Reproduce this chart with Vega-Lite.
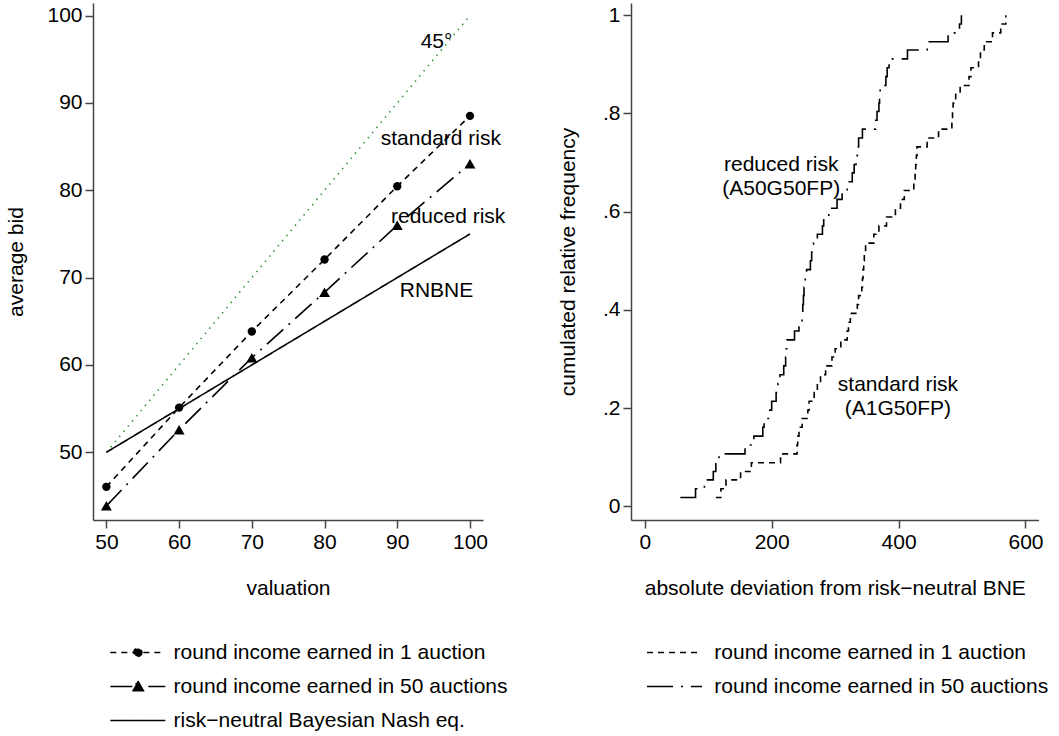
{
  "$schema": "https://vega.github.io/schema/vega-lite/v6.json",
  "background": "white",
  "padding": {"left": 5, "top": 3, "right": 5, "bottom": 5},
  "spacing": 49,
  "config": {
    "view": {"stroke": null},
    "font": "Liberation Sans",
    "axis": {
      "labelFont": "Liberation Sans", "labelFontSize": 21, "labelColor": "black",
      "titleFont": "Liberation Sans", "titleFontSize": 21, "titleFontWeight": "normal", "titleColor": "black",
      "domainColor": "#444444", "domainWidth": 1.5, "tickColor": "#444444", "tickWidth": 1.5,
      "tickSize": 8, "labelPadding": 3, "grid": false
    },
    "legend": {"labelFont": "Liberation Sans", "labelFontSize": 21, "labelColor": "black", "padding": 0, "labelLimit": 400}
  },
  "resolve": {"scale": {"strokeDash": "independent", "shape": "independent"}, "legend": {"strokeDash": "independent"}},
  "datasets": {
    "bids": [
      {"valuation": 50, "bid": 46.05, "series": "round income earned in 1 auction"},
      {"valuation": 60, "bid": 55.12, "series": "round income earned in 1 auction"},
      {"valuation": 70, "bid": 63.83, "series": "round income earned in 1 auction"},
      {"valuation": 80, "bid": 72.08, "series": "round income earned in 1 auction"},
      {"valuation": 90, "bid": 80.46, "series": "round income earned in 1 auction"},
      {"valuation": 100, "bid": 88.52, "series": "round income earned in 1 auction"},
      {"valuation": 50, "bid": 43.87, "series": "round income earned in 50 auctions"},
      {"valuation": 60, "bid": 52.58, "series": "round income earned in 50 auctions"},
      {"valuation": 70, "bid": 60.83, "series": "round income earned in 50 auctions"},
      {"valuation": 80, "bid": 68.32, "series": "round income earned in 50 auctions"},
      {"valuation": 90, "bid": 76.0, "series": "round income earned in 50 auctions"},
      {"valuation": 100, "bid": 83.03, "series": "round income earned in 50 auctions"},
      {"valuation": 50, "bid": 50, "series": "risk−neutral Bayesian Nash eq."},
      {"valuation": 100, "bid": 75, "series": "risk−neutral Bayesian Nash eq."}
    ],
    "diagonal": [
      {"valuation": 50, "bid": 50},
      {"valuation": 100, "bid": 100}
    ],
    "leftLabels": [
      {"valuation": 95.4, "bid": 97.0, "label": "45°"},
      {"valuation": 96.0, "bid": 85.9, "label": "standard risk"},
      {"valuation": 97.0, "bid": 76.9, "label": "reduced risk"},
      {"valuation": 95.4, "bid": 68.5, "label": "RNBNE"}
    ],
    "cdf": [
      {"deviation": 56, "freq": 0.018, "group": "round income earned in 50 auctions"},
      {"deviation": 80, "freq": 0.036, "group": "round income earned in 50 auctions"},
      {"deviation": 94, "freq": 0.054, "group": "round income earned in 50 auctions"},
      {"deviation": 108, "freq": 0.071, "group": "round income earned in 50 auctions"},
      {"deviation": 112, "freq": 0.089, "group": "round income earned in 50 auctions"},
      {"deviation": 117, "freq": 0.107, "group": "round income earned in 50 auctions"},
      {"deviation": 158, "freq": 0.125, "group": "round income earned in 50 auctions"},
      {"deviation": 172, "freq": 0.143, "group": "round income earned in 50 auctions"},
      {"deviation": 186, "freq": 0.161, "group": "round income earned in 50 auctions"},
      {"deviation": 188, "freq": 0.179, "group": "round income earned in 50 auctions"},
      {"deviation": 197, "freq": 0.196, "group": "round income earned in 50 auctions"},
      {"deviation": 200, "freq": 0.214, "group": "round income earned in 50 auctions"},
      {"deviation": 207, "freq": 0.232, "group": "round income earned in 50 auctions"},
      {"deviation": 210, "freq": 0.25, "group": "round income earned in 50 auctions"},
      {"deviation": 213, "freq": 0.268, "group": "round income earned in 50 auctions"},
      {"deviation": 219, "freq": 0.286, "group": "round income earned in 50 auctions"},
      {"deviation": 222, "freq": 0.304, "group": "round income earned in 50 auctions"},
      {"deviation": 223, "freq": 0.321, "group": "round income earned in 50 auctions"},
      {"deviation": 224, "freq": 0.339, "group": "round income earned in 50 auctions"},
      {"deviation": 236, "freq": 0.357, "group": "round income earned in 50 auctions"},
      {"deviation": 243, "freq": 0.375, "group": "round income earned in 50 auctions"},
      {"deviation": 248, "freq": 0.393, "group": "round income earned in 50 auctions"},
      {"deviation": 249, "freq": 0.411, "group": "round income earned in 50 auctions"},
      {"deviation": 250, "freq": 0.429, "group": "round income earned in 50 auctions"},
      {"deviation": 251, "freq": 0.446, "group": "round income earned in 50 auctions"},
      {"deviation": 253, "freq": 0.464, "group": "round income earned in 50 auctions"},
      {"deviation": 255, "freq": 0.482, "group": "round income earned in 50 auctions"},
      {"deviation": 261, "freq": 0.5, "group": "round income earned in 50 auctions"},
      {"deviation": 263, "freq": 0.518, "group": "round income earned in 50 auctions"},
      {"deviation": 266, "freq": 0.536, "group": "round income earned in 50 auctions"},
      {"deviation": 272, "freq": 0.554, "group": "round income earned in 50 auctions"},
      {"deviation": 280, "freq": 0.571, "group": "round income earned in 50 auctions"},
      {"deviation": 282, "freq": 0.589, "group": "round income earned in 50 auctions"},
      {"deviation": 290, "freq": 0.607, "group": "round income earned in 50 auctions"},
      {"deviation": 303, "freq": 0.625, "group": "round income earned in 50 auctions"},
      {"deviation": 311, "freq": 0.643, "group": "round income earned in 50 auctions"},
      {"deviation": 319, "freq": 0.661, "group": "round income earned in 50 auctions"},
      {"deviation": 327, "freq": 0.679, "group": "round income earned in 50 auctions"},
      {"deviation": 330, "freq": 0.696, "group": "round income earned in 50 auctions"},
      {"deviation": 333, "freq": 0.714, "group": "round income earned in 50 auctions"},
      {"deviation": 335, "freq": 0.732, "group": "round income earned in 50 auctions"},
      {"deviation": 337, "freq": 0.75, "group": "round income earned in 50 auctions"},
      {"deviation": 343, "freq": 0.768, "group": "round income earned in 50 auctions"},
      {"deviation": 364, "freq": 0.786, "group": "round income earned in 50 auctions"},
      {"deviation": 366, "freq": 0.804, "group": "round income earned in 50 auctions"},
      {"deviation": 369, "freq": 0.821, "group": "round income earned in 50 auctions"},
      {"deviation": 370, "freq": 0.839, "group": "round income earned in 50 auctions"},
      {"deviation": 371, "freq": 0.857, "group": "round income earned in 50 auctions"},
      {"deviation": 380, "freq": 0.875, "group": "round income earned in 50 auctions"},
      {"deviation": 382, "freq": 0.893, "group": "round income earned in 50 auctions"},
      {"deviation": 385, "freq": 0.911, "group": "round income earned in 50 auctions"},
      {"deviation": 414, "freq": 0.929, "group": "round income earned in 50 auctions"},
      {"deviation": 445, "freq": 0.946, "group": "round income earned in 50 auctions"},
      {"deviation": 478, "freq": 0.964, "group": "round income earned in 50 auctions"},
      {"deviation": 496, "freq": 0.982, "group": "round income earned in 50 auctions"},
      {"deviation": 499, "freq": 1.0, "group": "round income earned in 50 auctions"},
      {"deviation": 112, "freq": 0.018, "group": "round income earned in 1 auction"},
      {"deviation": 120, "freq": 0.036, "group": "round income earned in 1 auction"},
      {"deviation": 128, "freq": 0.054, "group": "round income earned in 1 auction"},
      {"deviation": 151, "freq": 0.071, "group": "round income earned in 1 auction"},
      {"deviation": 168, "freq": 0.089, "group": "round income earned in 1 auction"},
      {"deviation": 214, "freq": 0.107, "group": "round income earned in 1 auction"},
      {"deviation": 240, "freq": 0.125, "group": "round income earned in 1 auction"},
      {"deviation": 241, "freq": 0.143, "group": "round income earned in 1 auction"},
      {"deviation": 243, "freq": 0.161, "group": "round income earned in 1 auction"},
      {"deviation": 248, "freq": 0.179, "group": "round income earned in 1 auction"},
      {"deviation": 257, "freq": 0.196, "group": "round income earned in 1 auction"},
      {"deviation": 259, "freq": 0.214, "group": "round income earned in 1 auction"},
      {"deviation": 267, "freq": 0.232, "group": "round income earned in 1 auction"},
      {"deviation": 272, "freq": 0.25, "group": "round income earned in 1 auction"},
      {"deviation": 277, "freq": 0.268, "group": "round income earned in 1 auction"},
      {"deviation": 285, "freq": 0.286, "group": "round income earned in 1 auction"},
      {"deviation": 295, "freq": 0.304, "group": "round income earned in 1 auction"},
      {"deviation": 300, "freq": 0.321, "group": "round income earned in 1 auction"},
      {"deviation": 309, "freq": 0.339, "group": "round income earned in 1 auction"},
      {"deviation": 319, "freq": 0.357, "group": "round income earned in 1 auction"},
      {"deviation": 321, "freq": 0.375, "group": "round income earned in 1 auction"},
      {"deviation": 324, "freq": 0.393, "group": "round income earned in 1 auction"},
      {"deviation": 335, "freq": 0.411, "group": "round income earned in 1 auction"},
      {"deviation": 337, "freq": 0.429, "group": "round income earned in 1 auction"},
      {"deviation": 342, "freq": 0.446, "group": "round income earned in 1 auction"},
      {"deviation": 343, "freq": 0.464, "group": "round income earned in 1 auction"},
      {"deviation": 344, "freq": 0.482, "group": "round income earned in 1 auction"},
      {"deviation": 345, "freq": 0.5, "group": "round income earned in 1 auction"},
      {"deviation": 346, "freq": 0.518, "group": "round income earned in 1 auction"},
      {"deviation": 348, "freq": 0.536, "group": "round income earned in 1 auction"},
      {"deviation": 361, "freq": 0.554, "group": "round income earned in 1 auction"},
      {"deviation": 369, "freq": 0.571, "group": "round income earned in 1 auction"},
      {"deviation": 381, "freq": 0.589, "group": "round income earned in 1 auction"},
      {"deviation": 395, "freq": 0.607, "group": "round income earned in 1 auction"},
      {"deviation": 403, "freq": 0.625, "group": "round income earned in 1 auction"},
      {"deviation": 409, "freq": 0.643, "group": "round income earned in 1 auction"},
      {"deviation": 424, "freq": 0.661, "group": "round income earned in 1 auction"},
      {"deviation": 426, "freq": 0.679, "group": "round income earned in 1 auction"},
      {"deviation": 427, "freq": 0.696, "group": "round income earned in 1 auction"},
      {"deviation": 428, "freq": 0.714, "group": "round income earned in 1 auction"},
      {"deviation": 429, "freq": 0.732, "group": "round income earned in 1 auction"},
      {"deviation": 445, "freq": 0.75, "group": "round income earned in 1 auction"},
      {"deviation": 463, "freq": 0.768, "group": "round income earned in 1 auction"},
      {"deviation": 484, "freq": 0.786, "group": "round income earned in 1 auction"},
      {"deviation": 485, "freq": 0.804, "group": "round income earned in 1 auction"},
      {"deviation": 486, "freq": 0.821, "group": "round income earned in 1 auction"},
      {"deviation": 490, "freq": 0.839, "group": "round income earned in 1 auction"},
      {"deviation": 497, "freq": 0.857, "group": "round income earned in 1 auction"},
      {"deviation": 511, "freq": 0.875, "group": "round income earned in 1 auction"},
      {"deviation": 514, "freq": 0.893, "group": "round income earned in 1 auction"},
      {"deviation": 526, "freq": 0.911, "group": "round income earned in 1 auction"},
      {"deviation": 529, "freq": 0.929, "group": "round income earned in 1 auction"},
      {"deviation": 535, "freq": 0.946, "group": "round income earned in 1 auction"},
      {"deviation": 548, "freq": 0.964, "group": "round income earned in 1 auction"},
      {"deviation": 561, "freq": 0.982, "group": "round income earned in 1 auction"},
      {"deviation": 569, "freq": 1.0, "group": "round income earned in 1 auction"}
    ],
    "rightLabels": [
      {"deviation": 215, "freq": 0.696, "label": "reduced risk\n(A50G50FP)"},
      {"deviation": 399, "freq": 0.247, "label": "standard risk\n(A1G50FP)"}
    ]
  },
  "hconcat": [
    {
      "width": 390,
      "height": 517,
      "encoding": {
        "x": {"field": "valuation", "type": "quantitative",
              "scale": {"domain": [48.16, 101.79], "nice": false, "zero": false},
              "axis": {"values": [50, 60, 70, 80, 90, 100], "title": "valuation", "titlePadding": 25}},
        "y": {"field": "bid", "type": "quantitative",
              "scale": {"domain": [42.25, 101.44], "nice": false, "zero": false},
              "axis": {"values": [50, 60, 70, 80, 90, 100], "title": "average bid", "titlePadding": 20}}
      },
      "layer": [
        {
          "data": {"name": "diagonal"},
          "mark": {"type": "line", "color": "#2f8f2f", "strokeDash": [1.5, 5.2], "strokeWidth": 1.5}
        },
        {
          "data": {"name": "bids"},
          "mark": {"type": "line", "color": "black", "strokeWidth": 1.6},
          "encoding": {
            "strokeDash": {"field": "series", "type": "nominal",
              "scale": {"domain": ["round income earned in 1 auction", "round income earned in 50 auctions", "risk−neutral Bayesian Nash eq."],
                        "range": [[6, 5], [22, 7, 2, 7], [1, 0]]},
              "legend": {"orient": "none", "legendX": 16, "legendY": 639, "title": null, "direction": "vertical",
                         "symbolSize": 336, "symbolStrokeWidth": 1.6, "symbolStrokeColor": "black",
                         "labelOffset": 43.6, "rowPadding": 12,
                         "encode": {"symbols": {"update": {
                           "shape": {"signal": "datum.value === 'round income earned in 1 auction' ? 'M-1,0H5M2.44,0A0.44,0.44 0 1,1 1.56,0A0.44,0.44 0 1,1 2.44,0Z' : (datum.value === 'round income earned in 50 auctions' ? 'M-1,0H5M2,-0.6L2.6,0.45L1.4,0.45Z' : 'M-1,0H5')"},
                           "strokeDash": {"signal": "datum.value === 'round income earned in 1 auction' ? [5, 5] : (datum.value === 'round income earned in 50 auctions' ? [25, 8, 2, 8] : [1, 0])"},
                           "stroke": {"value": "black"},
                           "strokeWidth": {"value": 1.6},
                           "fill": {"value": "black"},
                           "opacity": {"value": 1}}}}}
            }
          }
        },
        {
          "data": {"name": "bids"},
          "transform": [{"filter": "datum.series !== 'risk−neutral Bayesian Nash eq.'"}],
          "mark": {"type": "point", "filled": true, "color": "black", "opacity": 1},
          "encoding": {
            "shape": {"field": "series", "type": "nominal",
              "scale": {"domain": ["round income earned in 1 auction", "round income earned in 50 auctions"], "range": ["circle", "triangle-up"]},
              "legend": null},
            "size": {"condition": {"test": "datum.series === 'round income earned in 50 auctions'", "value": 120}, "value": 70}
          }
        },
        {
          "data": {"name": "leftLabels"},
          "mark": {"type": "text", "font": "Liberation Sans", "fontSize": 21, "color": "black", "align": "center", "baseline": "middle"},
          "encoding": {"text": {"field": "label"}}
        }
      ]
    },
    {
      "width": 407.5,
      "height": 517,
      "encoding": {
        "x": {"field": "deviation", "type": "quantitative",
              "scale": {"domain": [-21.7, 620.5], "nice": false, "zero": false},
              "axis": {"values": [0, 200, 400, 600], "title": "absolute deviation from risk−neutral BNE", "titlePadding": 25}},
        "y": {"field": "freq", "type": "quantitative",
              "scale": {"domain": [-0.0277, 1.0248], "nice": false, "zero": false},
              "axis": {"values": [0, 0.2, 0.4, 0.6, 0.8, 1], "title": "cumulated relative frequency", "titlePadding": 24,
                       "labelExpr": "datum.value == 0 ? '0' : (datum.value == 1 ? '1' : '.' + format(datum.value * 10, 'd'))"}}
      },
      "layer": [
        {
          "data": {"name": "cdf"},
          "mark": {"type": "line", "color": "black", "strokeWidth": 1.6, "interpolate": "step-after"},
          "encoding": {
            "strokeDash": {"field": "group", "type": "nominal",
              "scale": {"domain": ["round income earned in 1 auction", "round income earned in 50 auctions"],
                        "range": [[6, 5], [26, 8, 2, 8]]},
              "legend": {"orient": "none", "legendX": 14.7, "legendY": 639, "title": null, "direction": "vertical",
                         "symbolSize": 336, "symbolStrokeWidth": 1.6, "symbolStrokeColor": "black",
                         "symbolType": "M-1,0H5", "labelOffset": 47.6, "rowPadding": 12}
            }
          }
        },
        {
          "data": {"name": "rightLabels"},
          "mark": {"type": "text", "font": "Liberation Sans", "fontSize": 21, "color": "black", "align": "center", "baseline": "middle", "lineBreak": "\n", "lineHeight": 24},
          "encoding": {"text": {"field": "label"}}
        }
      ]
    }
  ]
}
